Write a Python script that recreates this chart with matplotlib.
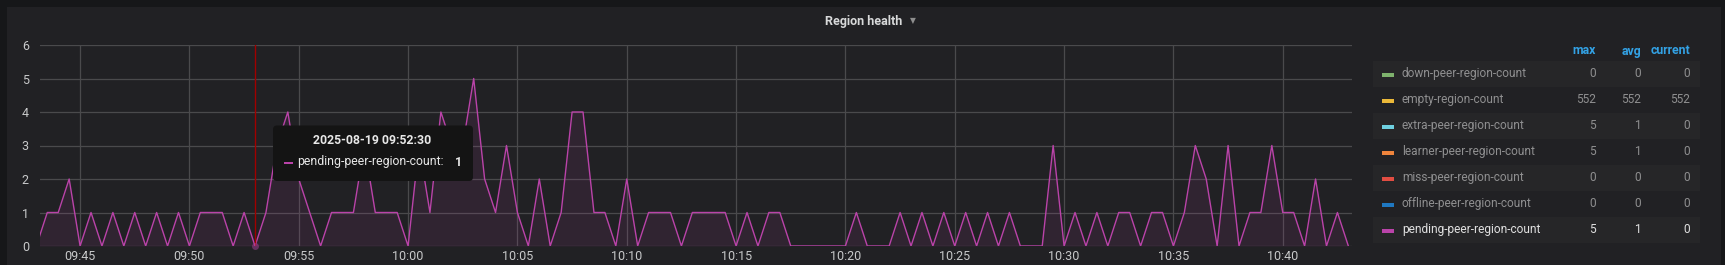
import pandas as pd
import matplotlib
matplotlib.use("Agg")
import matplotlib.pyplot as plt
import matplotlib.dates as mdates
from matplotlib.patches import FancyBboxPatch, Rectangle

W, H = 1725, 265

# pending-peer-region-count, one sample every 30s from 09:43:00
values = [0, 1, 1, 2, 0, 1, 0, 1, 0, 1, 0, 1, 0, 1, 0, 1, 1, 1, 0, 1,
          0, 1, 3, 4, 2, 1, 0, 1, 1, 1, 3, 1, 1, 1, 0, 3, 1, 4, 3, 3,
          5, 2, 1, 3, 1, 0, 2, 0, 1, 4, 4, 1, 1, 0, 2, 0, 1, 1, 1, 0,
          1, 1, 1, 1, 0, 1, 0, 1, 1, 0, 0, 0, 0, 0, 0, 1, 0, 0, 0, 1,
          0, 1, 0, 1, 0, 1, 0, 1, 0, 1, 0, 0, 0, 3, 0, 1, 0, 1, 0, 1,
          1, 0, 1, 1, 0, 1, 3, 2, 0, 3, 0, 1, 1, 3, 1, 1, 0, 2, 0, 1, 0]
times = pd.date_range("2025-08-19 09:43:00", periods=len(values), freq="30s")
x_start = pd.Timestamp("2025-08-19 09:43:10")
x_end = pd.Timestamp("2025-08-19 10:43:10")
hover_time = pd.Timestamp("2025-08-19 09:53:00")

series_names = ["down-peer-region-count", "empty-region-count", "extra-peer-region-count",
                "learner-peer-region-count", "miss-peer-region-count",
                "offline-peer-region-count", "pending-peer-region-count"]
series_colors = ["#7EB26D", "#EAB839", "#6ED0E0", "#EF843C", "#E24D42", "#1F78C1", "#BA43A9"]
max_vals = ["0", "552", "5", "5", "0", "0", "5"]
avg_vals = ["0", "552", "1", "1", "0", "0", "1"]
cur_vals = ["0", "552", "0", "0", "0", "0", "0"]

tooltip_title = "2025-08-19 09:52:30"
tooltip_label = "pending-peer-region-count:"
tooltip_value = "1"

plt.rcParams["font.family"] = ["Roboto", "DejaVu Sans"]

BG = "#161719"
PANEL = "#212124"
GRID = "#4a4a4c"
TEXT = "#c8c9ca"
PINK = "#BA43A9"

fig = plt.figure(figsize=(W / 100, H / 100), dpi=100, facecolor=BG)


def fx(px):
    return px / W


def fy(py):
    return 1 - py / H


# panel background
fig.patches.append(Rectangle((fx(7), 0), fx(1721) - fx(7), fy(7), transform=fig.transFigure,
                             facecolor=PANEL, edgecolor="none", zorder=-1))

ax = fig.add_axes([fx(40), fy(246), fx(1352) - fx(40), fy(45) - fy(246)])
ax.set_facecolor(PANEL)
ax.plot(times, values, color=PINK, lw=1.0, zorder=3)
ax.fill_between(times, values, 0, color=PINK, alpha=0.1, lw=0, zorder=2)
ax.axvline(hover_time, color="#a00000", lw=1.0, zorder=4)
ax.plot([hover_time], [0], "o", color=PINK, alpha=0.45, ms=5, mec="none", zorder=5, clip_on=False)

ax.set_xlim(x_start, x_end)
ax.set_ylim(0, 6)
ax.set_yticks(range(0, 7))
ax.xaxis.set_major_locator(mdates.MinuteLocator(byminute=range(0, 60, 5)))
ax.xaxis.set_major_formatter(mdates.DateFormatter("%H:%M"))
ax.grid(True, color=GRID, lw=0.9)
ax.set_axisbelow(True)
for s in ax.spines.values():
    s.set_visible(False)
ax.tick_params(length=0, colors=TEXT, labelsize=9)
ax.tick_params(axis="x", pad=3)
ax.tick_params(axis="y", pad=8)

# title
fig.text(fx(864), fy(21), "Region health", color="#d8d9da", fontsize=9, fontweight="bold",
         ha="center", va="center")
fig.text(fx(913), fy(21), "\u25bc", color="#8e8e8e", fontsize=5.5, ha="center", va="center",
         family="DejaVu Sans")

# tooltip
fig.patches.append(FancyBboxPatch((2.73, fy(181) * H / 100), 2.0, 0.555,
                                  boxstyle="round,pad=0,rounding_size=0.04",
                                  transform=fig.dpi_scale_trans, facecolor="#141414",
                                  edgecolor="none", zorder=10))
fig.text(fx(372), fy(141), tooltip_title, color="#e8e8e8", fontsize=8.8, fontweight="bold",
         ha="center", va="center", zorder=11)
fig.patches.append(Rectangle((fx(284), fy(164)), fx(9), 2.5 / H, transform=fig.transFigure,
                             facecolor=PINK, edgecolor="none", zorder=11))
fig.text(fx(297), fy(162), tooltip_label, color="#e8e8e8", fontsize=8.8,
         ha="left", va="center", zorder=11)
fig.text(fx(462), fy(162), tooltip_value, color="#e8e8e8", fontsize=8.8, fontweight="bold",
         ha="right", va="center", zorder=11)

# legend table
hdr_y = 51
fig.text(fx(1596), fy(hdr_y), "max", color="#33a2e5", fontsize=8.8, fontweight="bold", ha="right", va="center")
fig.text(fx(1641), fy(hdr_y), "avg", color="#33a2e5", fontsize=8.8, fontweight="bold", ha="right", va="center")
fig.text(fx(1690), fy(hdr_y), "current", color="#33a2e5", fontsize=8.8, fontweight="bold", ha="right", va="center")

for i, name in enumerate(series_names):
    yc = 73.5 + i * 26
    if i % 2 == 0:
        fig.patches.append(Rectangle((fx(1373), fy(yc + 13)), fx(1700) - fx(1373), 26 / H,
                                     transform=fig.transFigure, facecolor="#262628",
                                     edgecolor="none", zorder=1))
    fig.patches.append(Rectangle((fx(1382), fy(yc + 3)), fx(12), 4 / H, transform=fig.transFigure,
                                 facecolor=series_colors[i], edgecolor="none", zorder=2))
    last = i == len(series_names) - 1
    col = "#e0e0e0" if last else "#8f8f90"
    fig.text(fx(1402), fy(yc), name, color=col, fontsize=8.6, ha="left", va="center")
    fig.text(fx(1596), fy(yc), max_vals[i], color=col, fontsize=8.6, ha="right", va="center")
    fig.text(fx(1641), fy(yc), avg_vals[i], color=col, fontsize=8.6, ha="right", va="center")
    fig.text(fx(1690), fy(yc), cur_vals[i], color=col, fontsize=8.6, ha="right", va="center")

fig.savefig("out.png", dpi=100, facecolor=BG)
